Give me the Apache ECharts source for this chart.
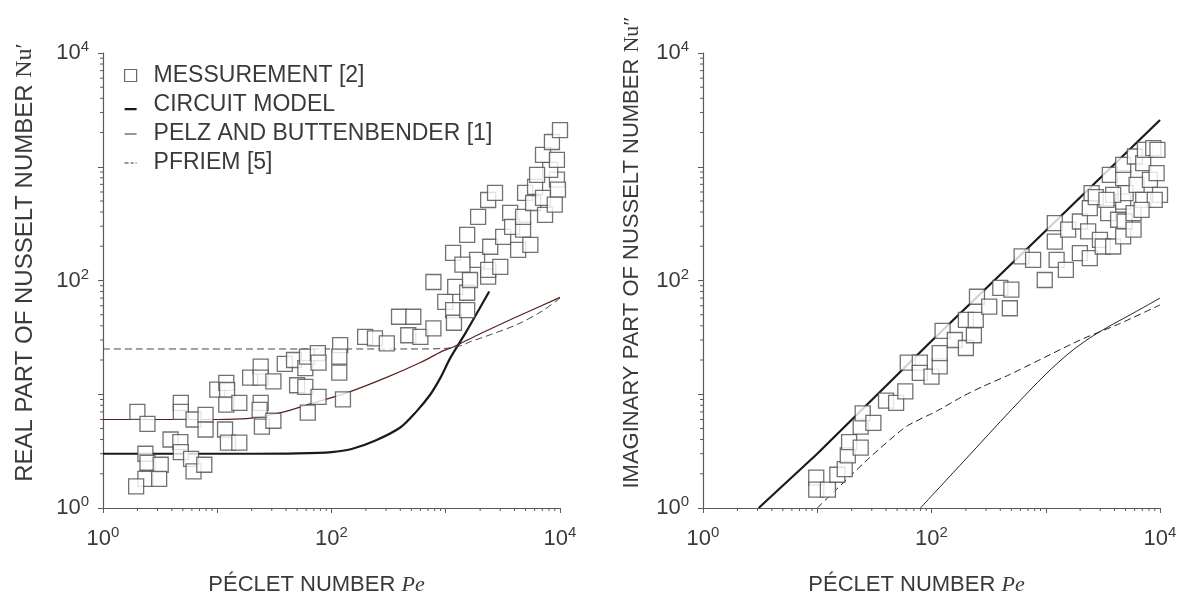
<!DOCTYPE html>
<html>
<head>
<meta charset="utf-8">
<script src="https://cdn.jsdelivr.net/npm/echarts@6/dist/echarts.min.js"></script>
<style>
html,body{margin:0;padding:0;background:#fff;}
#chart{width:1185px;height:603px;}
</style>
</head>
<body>
<div id="chart"></div>
<script>
// ---------------- DATA ----------------
// Left panel: real part Nu' vs Péclet number
const leftMeasPe = [2.0,2.45,4.8,4.8,6.2,7.9,7.9,3.9,4.75,4.8,5.9,6.2,7.7,2.35,2.45,3.2,2.35,3.1,1.95,
  10,12,12.2,12,15.6,11.7,12.4,15.6,19.4,24,24,31,24,23.5,24.6,31,39,47,50,59,59,61,76,77,77,62,
  119,117,117,126,197,240,305,390,470,520,600,780,780,990,1160,1180,1210,1540,1540,1630,1160,1540,
  1920,2350,2700,1880,2350,2350,2450,3000,3180,3660,3810,4750,4750,4950,6050,5820,7100,9400,8200,
  7100,9400,8500,10000,6300,9600,4300,5500,7400,9000,1400];
const leftMeasNu = [7.0,5.5,8.4,7.0,6.0,6.6,4.9,4.0,3.8,3.1,2.7,2.1,2.4,3.0,2.5,2.4,1.8,1.8,1.55,
  11,12.6,10.9,8.1,8.4,4.9,3.75,3.75,14,17.5,14,13,8.4,7.3,5.2,5.85,18.5,20,12,11.6,17,21.4,23,19,9.5,6.9,
  27,21.4,15.5,9,32,31,28,48,33,48,32,38,97,65,55,42.5,88,55,78,101,175,252,
  363,510,590,152,108,124,198,132,242,393,296,280,363,590,665,480,533,770,940,
  1270,1150,1650,2100,850,630,186,206,378,464,138];

const leftCircuitPe = [1,20,50,100,150,240,400,550,730,900,1100,1500,2400];
const leftCircuitNu = [3.0,3.0,3.02,3.1,3.3,3.9,5.1,7.0,9.9,14,21,35,80];

const leftPelzPe = [1,10,18,36,70,140,300,600,925,1160,2000,4000,10000];
const leftPelzNu = [6.0,6.0,6.1,6.9,8.4,10.4,14,19,23.8,26,34,47,71];

const leftPfriemPe = [1,500,1000,1400,1640,2000,4200,7000,10000];
const leftPfriemNu = [25,25,25.3,27,29,31,41,54,70];

// Right panel: imaginary part Nu'' vs Péclet number
const rightMeasPe = [9.8,9.8,12.4,15,17.4,18.5,19,24,24,25,31,40,49,59,62,79,79,100,118,118,125,160,200,200,235,244,250,320,400,485,
  500,615,775,980,1200,1200,1245,1570,1500,1990,1990,2350,2430,2520,2740,2430,2980,3520,3150,3890,3640,4300,4760,4760,4760,4900,4760,5000,
  6030,5870,6240,7130,7130,7380,8160,8730,9340,9500,10000,9000,6900,5870,3890,3400];
const rightMeasNu = [1.85,1.45,1.45,1.96,2.2,2.9,3.8,3.4,5.2,6.8,5.6,8.8,8.4,10.6,19,19,15.4,14.3,17.6,23,36,30,25.5,45,33,45,72,59,86,57,
  83,163,152,101,220,320,152,280,124,330,174,270,433,586,540,157,228,391,199,199,850,342,794,1040,494,330,244,586,
  1230,391,693,1076,512,1410,767,1460,880,1410,566,512,418,280,566,512];

const rightCircuitPe = [3.07,10,100,1000,10000];
const rightCircuitNu = [1,3.0,29.4,274,2580];

const rightPelzPe = [80,200,500,1000,1600,2400,3500,5500,10000];
const rightPelzNu = [1,2.7,7.3,15,23,31,39,50,70];

const rightPfriemPe = [10,28.7,60,111,188,281,484,2000,4500,10000];
const rightPfriemNu = [1,2.77,5.2,7.1,9.6,11.7,14.9,30,42,61];

// axis tick values
const minorTickValues = [2,3,4,5,6,7,8,9,20,30,40,50,60,70,80,90,200,300,400,500,600,700,800,900,2000,3000,4000,5000,6000,7000,8000,9000];

// ---------------- CHART ----------------
const FONT = '"Liberation Sans", Arial, sans-serif';
const SERIF = '"Liberation Serif", "DejaVu Serif", serif';
const TXT = '#3a3a3a';
const AX = '#5a5a5a';

const zip = (a, b) => a.map((v, i) => [v, b[i]]);

function expLabel(v) {
  const e = Math.round(Math.log10(v));
  return e % 2 === 0 ? '{b|10}{s|' + e + '}' : '';
}
const labelRich = {
  b: {fontSize: 22, color: TXT, fontFamily: FONT},
  s: {fontSize: 15, color: TXT, fontFamily: FONT, padding: [0, 0, 12, 0]}
};

function makeX(gi, name) {
  return {
    type: 'log', logBase: 10, min: 1, max: 10000, gridIndex: gi,
    splitLine: {show: false},
    axisLine: {show: true, lineStyle: {color: AX, width: 1.2}},
    axisTick: {show: true, inside: false, length: 5, lineStyle: {color: AX, width: 1}},
    axisLabel: {formatter: expLabel, rich: labelRich, margin: 17, color: TXT},
    name: name, nameLocation: 'middle', nameGap: 66,
    nameTextStyle: {
      padding: [0, 30, 0, 0],
      rich: {
        a: {fontSize: 22, color: TXT, fontFamily: FONT},
        m: {fontSize: 22, color: TXT, fontFamily: SERIF, fontStyle: 'italic'}
      }
    }
  };
}
function makeY(gi, name, gap, shift, size) {
  return {
    type: 'log', logBase: 10, min: 1, max: 10000, gridIndex: gi,
    splitLine: {show: false},
    axisLine: {show: true, lineStyle: {color: AX, width: 1.2}},
    axisTick: {show: true, inside: false, length: 5, lineStyle: {color: AX, width: 1}},
    axisLabel: {formatter: expLabel, rich: labelRich, margin: 14, color: TXT},
    name: name, nameLocation: 'middle', nameGap: gap, nameRotate: 90,
    nameTextStyle: {
      padding: [0, 0, 0, shift],
      rich: {
        a: {fontSize: size, color: TXT, fontFamily: FONT},
        m: {fontSize: size, color: TXT, fontFamily: SERIF}
      }
    }
  };
}

function tickRender(params, api) {
  const v = api.value(0);
  const kind = api.value(2);
  if (kind === 0) {
    const p = api.coord([v, 1]);
    return {type: 'line', shape: {x1: p[0], y1: p[1], x2: p[0], y2: p[1] + 3}, style: {stroke: AX, lineWidth: 1}};
  }
  const p = api.coord([1, v]);
  return {type: 'line', shape: {x1: p[0], y1: p[1], x2: p[0] - 3, y2: p[1]}, style: {stroke: AX, lineWidth: 1}};
}
const tickData = [];
minorTickValues.forEach(v => { tickData.push([v, v, 0]); tickData.push([v, v, 1]); });

function tickSeries(gi) {
  return {type: 'custom', xAxisIndex: gi, yAxisIndex: gi, renderItem: tickRender, data: tickData,
    encode: {x: 0, y: 1}, silent: true, clip: false, z: 1};
}

const squareStyle = {color: '#ffffff', borderColor: '#4d4d4d', borderWidth: 1.3};

function measSeries(gi, pe, nu) {
  return {name: 'MESSUREMENT [2]', type: 'scatter', xAxisIndex: gi, yAxisIndex: gi,
    symbol: 'rect', symbolSize: 15, itemStyle: squareStyle, data: zip(pe, nu), z: 5};
}
function lineSeries(gi, name, pe, nu, style, smooth) {
  return {name: name, type: 'line', xAxisIndex: gi, yAxisIndex: gi, symbol: 'none', showSymbol: false,
    smooth: smooth || false, lineStyle: style, itemStyle: {color: style.color}, data: zip(pe, nu), z: 3};
}

// legend icons: tiny anchor marks fix a 12x12 box, the visible bar sits inside it
const BOX = 'M0,0L0.01,0L0,0.01Z M12,12L11.99,12L12,11.99Z ';
const iconCircuit = 'path://' + BOX + 'M0,9.6L12,9.6L12,11.8L0,11.8Z';
const iconPelz = 'path://' + BOX + 'M0,6L12,6L12,7L0,7Z';
const iconPfriem = 'path://' + BOX + 'M0,6L4,6L4,7L0,7Z M6,6L9,6L9,7L6,7Z M11,6L12,6L12,7L11,7Z';

const option = {
  animation: false,
  backgroundColor: '#ffffff',
  textStyle: {fontFamily: FONT},
  grid: [
    {left: 103, top: 53, width: 457, height: 455, containLabel: false, outerBoundsMode: 'none'},
    {left: 703, top: 53, width: 457, height: 455, containLabel: false, outerBoundsMode: 'none'}
  ],
  xAxis: [makeX(0, '{a|PÉCLET NUMBER }{m|Pe}'), makeX(1, '{a|PÉCLET NUMBER }{m|Pe}')],
  yAxis: [makeY(0, '{a|REAL PART OF NUSSELT NUMBER }{m|Nu′}', 66, 36, 24), makeY(1, '{a|IMAGINARY PART OF NUSSELT NUMBER }{m|Nu″}', 60, 56, 22)],
  legend: {
    left: 119, top: 59, orient: 'vertical',
    itemWidth: 12, itemHeight: 12, itemGap: 6,
    textStyle: {fontSize: 23, color: TXT, fontFamily: FONT, padding: [0, 0, 0, 12]},
    data: [
      {name: 'MESSUREMENT [2]', icon: 'rect', itemStyle: {color: '#fff', borderColor: '#444', borderWidth: 1.2}},
      {name: 'CIRCUIT MODEL', icon: iconCircuit, itemStyle: {color: '#1a1a1a', borderWidth: 0}},
      {name: 'PELZ AND BUTTENBENDER [1]', icon: iconPelz, itemStyle: {color: '#333', borderWidth: 0}},
      {name: 'PFRIEM [5]', icon: iconPfriem, itemStyle: {color: '#333', borderWidth: 0}}
    ]
  },
  series: [
    tickSeries(0), tickSeries(1),
    lineSeries(0, 'CIRCUIT MODEL', leftCircuitPe, leftCircuitNu, {color: '#1a1a1a', width: 2.2}, 0.3),
    lineSeries(0, 'PELZ AND BUTTENBENDER [1]', leftPelzPe, leftPelzNu, {color: '#5e1f1f', width: 1.2}, 0.3),
    lineSeries(0, 'PFRIEM [5]', leftPfriemPe, leftPfriemNu, {color: '#444', width: 1, type: [7, 4]}, 0.3),
    measSeries(0, leftMeasPe, leftMeasNu),
    lineSeries(1, 'CIRCUIT MODEL', rightCircuitPe, rightCircuitNu, {color: '#1a1a1a', width: 2.2}),
    lineSeries(1, 'PELZ AND BUTTENBENDER [1]', rightPelzPe, rightPelzNu, {color: '#222', width: 1}, 0.3),
    lineSeries(1, 'PFRIEM [5]', rightPfriemPe, rightPfriemNu, {color: '#222', width: 1, type: [7, 4]}, 0.2),
    measSeries(1, rightMeasPe, rightMeasNu)
  ]
};

const chart = echarts.init(document.getElementById('chart'), null, {renderer: 'canvas'});
chart.setOption(option);
</script>
</body>
</html>
